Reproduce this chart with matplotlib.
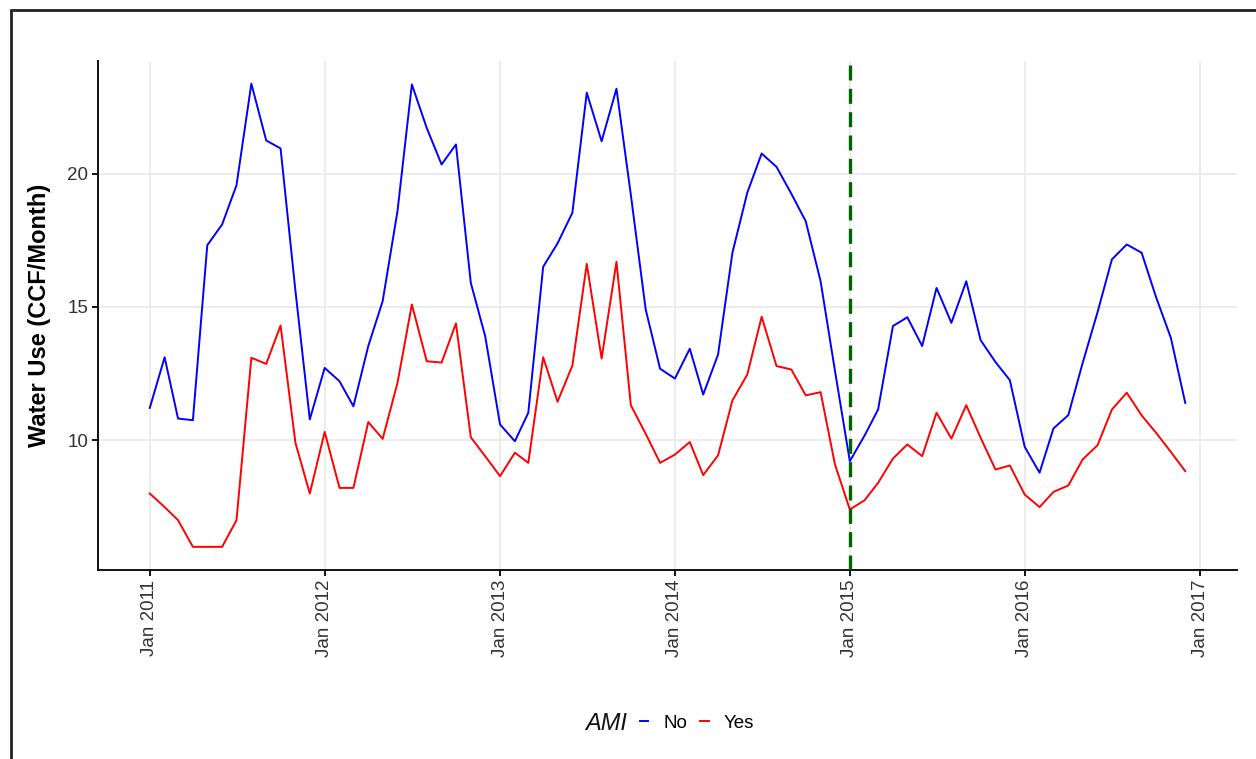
import pandas as pd
import matplotlib
matplotlib.use("Agg")
import matplotlib.pyplot as plt
import matplotlib.dates as mdates
from matplotlib.lines import Line2D
from matplotlib.patches import Rectangle

plt.rcParams['font.family'] = ['Liberation Sans', 'DejaVu Sans']

# monthly water use, Jan 2011 - Dec 2016
months = pd.date_range('2011-01-01', '2016-12-01', freq='MS')

ami_no = [11.21, 13.11, 10.81, 10.75, 17.31, 18.09, 19.56, 23.37, 21.24, 20.94, 15.6, 10.78,
          12.71, 12.21, 11.27, 13.53, 15.21, 18.59, 23.34, 21.71, 20.34, 21.09, 15.90, 13.90,
          10.59, 9.96, 11.03, 16.50, 17.38, 18.53, 23.03, 21.21, 23.18, 19.2, 14.90, 12.68,
          12.31, 13.43, 11.71, 13.21, 17.03, 19.28, 20.75, 20.25, 19.24, 18.21, 15.96, 12.6,
          9.21, 10.18, 11.15, 14.28, 14.61, 13.53, 15.71, 14.40, 15.96, 13.75, 12.93, 12.25,
          9.75, 8.78, 10.44, 10.94, 12.9, 14.8, 16.78, 17.34, 17.03, 15.37, 13.84, 11.40]

ami_yes = [8.0, 7.49, 7.0, 6.0, 6.0, 6.0, 7.0, 13.09, 12.86, 14.30, 9.90, 8.0,
           10.31, 8.21, 8.21, 10.68, 10.05, 12.15, 15.09, 12.96, 12.91, 14.38, 10.11, 9.4,
           8.65, 9.53, 9.15, 13.11, 11.44, 12.80, 16.61, 13.06, 16.69, 11.31, 10.24, 9.15,
           9.46, 9.93, 8.69, 9.43, 11.49, 12.46, 14.63, 12.78, 12.65, 11.68, 11.80, 9.09,
           7.40, 7.75, 8.40, 9.31, 9.84, 9.40, 11.03, 10.06, 11.31, 10.09, 8.90, 9.05,
           7.96, 7.49, 8.06, 8.30, 9.28, 9.81, 11.15, 11.78, 10.93, 10.28, 9.56, 8.84]

cutoff = pd.Timestamp('2015-01-01')
legend_labels = ['No', 'Yes']
line_colors = ['#0000FF', '#FF0000']

fig = plt.figure(figsize=(12.56, 7.59), dpi=100)
ax = fig.add_axes([98/1256, 1 - 570/759, (1237 - 98)/1256, (570 - 60.5)/759])

ax.plot(months, ami_no, color=line_colors[0], lw=1.4)
ax.plot(months, ami_yes, color=line_colors[1], lw=1.4)
ax.axvline(cutoff, color='#006400', lw=2.4, linestyle=(0, (4.5, 2.5)), zorder=3)

# ggplot style 5% expansion
span = months[-1] - months[0]
ax.set_xlim(months[0] - span * 0.05, months[-1] + span * 0.05)
lo = min(ami_yes + ami_no)
hi = max(ami_yes + ami_no)
ax.set_ylim(lo - (hi - lo) * 0.05, hi + (hi - lo) * 0.05)

ax.xaxis.set_major_locator(mdates.YearLocator())
ax.xaxis.set_major_formatter(mdates.DateFormatter('%b %Y'))
ax.set_yticks([10, 15, 20])

ax.grid(True, color='#ebebeb', lw=1.3)
ax.set_axisbelow(True)
for s in ['top', 'right']:
    ax.spines[s].set_visible(False)
for s in ['left', 'bottom']:
    ax.spines[s].set_linewidth(1.4)
    ax.spines[s].set_color('#111111')

ax.tick_params(axis='both', direction='out', length=4, width=1.4, color='#111111',
               labelsize=13.5, labelcolor='#333333', pad=3)
plt.setp(ax.get_xticklabels(), rotation=90, ha='center', va='top')

ax.set_ylabel('Water Use (CCF/Month)', fontsize=17, fontweight='bold', labelpad=12)

# legend at the bottom, title on the left
fig.text(606/1256, 1 - 723/759, 'AMI', fontsize=17, style='italic',
         ha='center', va='center', color='#111111')
handles = [Line2D([], [], color=c, lw=1.4) for c in line_colors]
fig.legend(handles, legend_labels, ncol=2, frameon=False, fontsize=13.5,
           loc='center', bbox_to_anchor=(697/1256, 1 - 723/759),
           handlelength=0.45, handletextpad=0.8, columnspacing=0.7)

# outer frame (only top and left edges visible in the crop)
fig.add_artist(Rectangle((11/1256, -0.1), 1.2, 1 - 10/759 + 0.1,
                         transform=fig.transFigure, fill=False,
                         edgecolor='#222222', lw=2.0, clip_on=False))

fig.savefig('out.png', dpi=100)
